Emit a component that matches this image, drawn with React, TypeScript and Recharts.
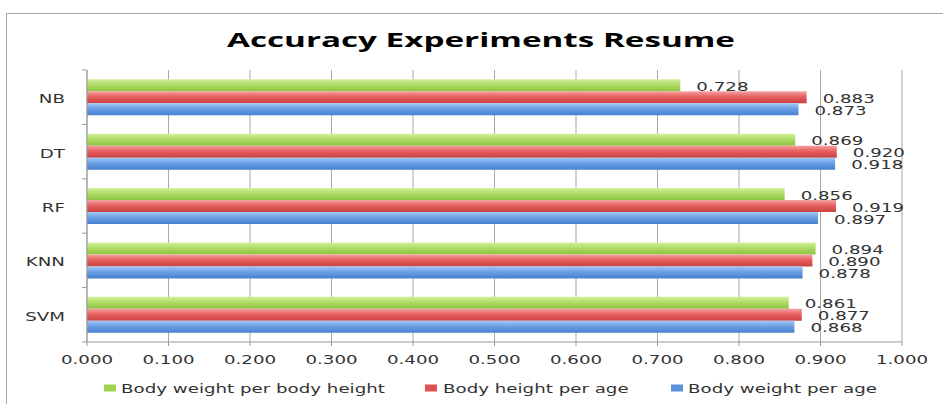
import React from 'react';
import { BarChart, Bar, XAxis, YAxis, CartesianGrid, LabelList } from 'recharts';

const models = ['NB', 'DT', 'RF', 'KNN', 'SVM'];
const weightPerHeight = [0.728, 0.869, 0.856, 0.894, 0.861];
const heightPerAge = [0.883, 0.92, 0.919, 0.89, 0.877];
const weightPerAge = [0.873, 0.918, 0.897, 0.878, 0.868];
const xTicks = [0, 0.1, 0.2, 0.3, 0.4, 0.5, 0.6, 0.7, 0.8, 0.9, 1.0];

const series = [
  { key: 'wph', name: 'Body weight per body height', values: weightPerHeight, grad: 'gGreen', swatch: '#9fd24e' },
  { key: 'hpa', name: 'Body height per age', values: heightPerAge, grad: 'gRed', swatch: '#e05252' },
  { key: 'wpa', name: 'Body weight per age', values: weightPerAge, grad: 'gBlue', swatch: '#5a92de' },
];

const chartData = models.map((model, i) => {
  const row: Record<string, string | number> = { model };
  series.forEach((s) => {
    row[s.key] = s.values[i];
  });
  return row;
});

const FONT = '"DejaVu Sans", Verdana, sans-serif';
const STRETCH = 1.47; // the source picture is widened, text looks stretched
const TEXT = '#333';
const HALF_BAND = 27.2;

// text that is widened around its anchor point
const WideText = ({ x, y, anchor, children, size = 12.4, fill = TEXT }: any) => (
  <text
    transform={`translate(${x},${y}) scale(${STRETCH},1)`}
    textAnchor={anchor}
    fontFamily={FONT}
    fontSize={size}
    fill={fill}
  >
    {children}
  </text>
);

const ModelTick = (props: any) => {
  const { x, y, payload } = props;
  const last = payload.value === models[models.length - 1];
  return (
    <g>
      <line x1={x - 5} x2={x} y1={y - HALF_BAND} y2={y - HALF_BAND} stroke="#9a9a9a" />
      {last && <line x1={x - 5} x2={x} y1={y + HALF_BAND} y2={y + HALF_BAND} stroke="#9a9a9a" />}
      <WideText x={x - 22} y={y + 6} anchor="end">
        {payload.value}
      </WideText>
    </g>
  );
};

const ValueTick = (props: any) => {
  const { x, y, payload } = props;
  return (
    <WideText x={x} y={y + 18} anchor="middle">
      {Number(payload.value).toFixed(3)}
    </WideText>
  );
};

const ValueLabel = (props: any) => {
  const { x, y, width, height, value } = props;
  return (
    <WideText x={x + width + 16} y={y + height / 2 + 5.5} anchor="start">
      {Number(value).toFixed(3)}
    </WideText>
  );
};

const legendX = [
  { rect: 104, text: 121 },
  { rect: 425, text: 443 },
  { rect: 671, text: 688 },
];

export default function App() {
  return (
    <div
      style={{
        position: 'fixed',
        left: 0,
        top: 0,
        width: 943,
        height: 404,
        background: '#fff',
        overflow: 'hidden',
      }}
    >
      <div
        style={{
          position: 'absolute',
          left: 6,
          top: 13,
          width: 950,
          height: 420,
          border: '1px solid #a8a8a8',
        }}
      />
      <div style={{ position: 'absolute', left: 0, top: 0 }}>
        <BarChart
          width={943}
          height={404}
          data={chartData}
          layout="vertical"
          margin={{ top: 70, right: 41, bottom: 32, left: 0 }}
          barCategoryGap="17%"
          barGap={0}
        >
          <defs>
            <linearGradient id="gGreen" x1="0" y1="0" x2="0" y2="1">
              <stop offset="0%" stopColor="#d2f09c" />
              <stop offset="45%" stopColor="#b0dc66" />
              <stop offset="100%" stopColor="#8dc240" />
            </linearGradient>
            <linearGradient id="gRed" x1="0" y1="0" x2="0" y2="1">
              <stop offset="0%" stopColor="#f5a3a3" />
              <stop offset="45%" stopColor="#e86060" />
              <stop offset="100%" stopColor="#c84040" />
            </linearGradient>
            <linearGradient id="gBlue" x1="0" y1="0" x2="0" y2="1">
              <stop offset="0%" stopColor="#a3c8f5" />
              <stop offset="45%" stopColor="#6b9fe6" />
              <stop offset="100%" stopColor="#4680d0" />
            </linearGradient>
          </defs>
          <CartesianGrid horizontal={false} stroke="#a8a8a8" />
          <XAxis
            type="number"
            domain={[0, 1]}
            ticks={xTicks}
            interval={0}
            height={30}
            tickSize={4}
            tickMargin={0}
            axisLine={{ stroke: '#9a9a9a' }}
            tickLine={{ stroke: '#9a9a9a' }}
            tick={<ValueTick />}
          />
          <YAxis
            type="category"
            dataKey="model"
            width={87}
            tickSize={0}
            tickMargin={0}
            tickLine={false}
            axisLine={{ stroke: '#9a9a9a' }}
            tick={<ModelTick />}
          />
          {series.map((s) => (
            <Bar key={s.key} dataKey={s.key} name={s.name} fill={`url(#${s.grad})`} isAnimationActive={false}>
              <LabelList dataKey={s.key} content={<ValueLabel />} />
            </Bar>
          ))}
        </BarChart>
      </div>
      <svg width={943} height={404} style={{ position: 'absolute', left: 0, top: 0, pointerEvents: 'none' }}>
        <text
          x={481}
          y={47}
          textAnchor="middle"
          fontFamily='"Open Sans", sans-serif'
          fontWeight={700}
          fontSize={20}
          textLength={508}
          lengthAdjust="spacingAndGlyphs"
          fill="#000"
        >
          Accuracy Experiments Resume
        </text>
        {series.map((s, i) => (
          <g key={s.key}>
            <rect x={legendX[i].rect} y={384.5} width={12} height={7} fill={s.swatch} />
            <WideText x={legendX[i].text} y={392.5} anchor="start">
              {s.name}
            </WideText>
          </g>
        ))}
      </svg>
    </div>
  );
}
